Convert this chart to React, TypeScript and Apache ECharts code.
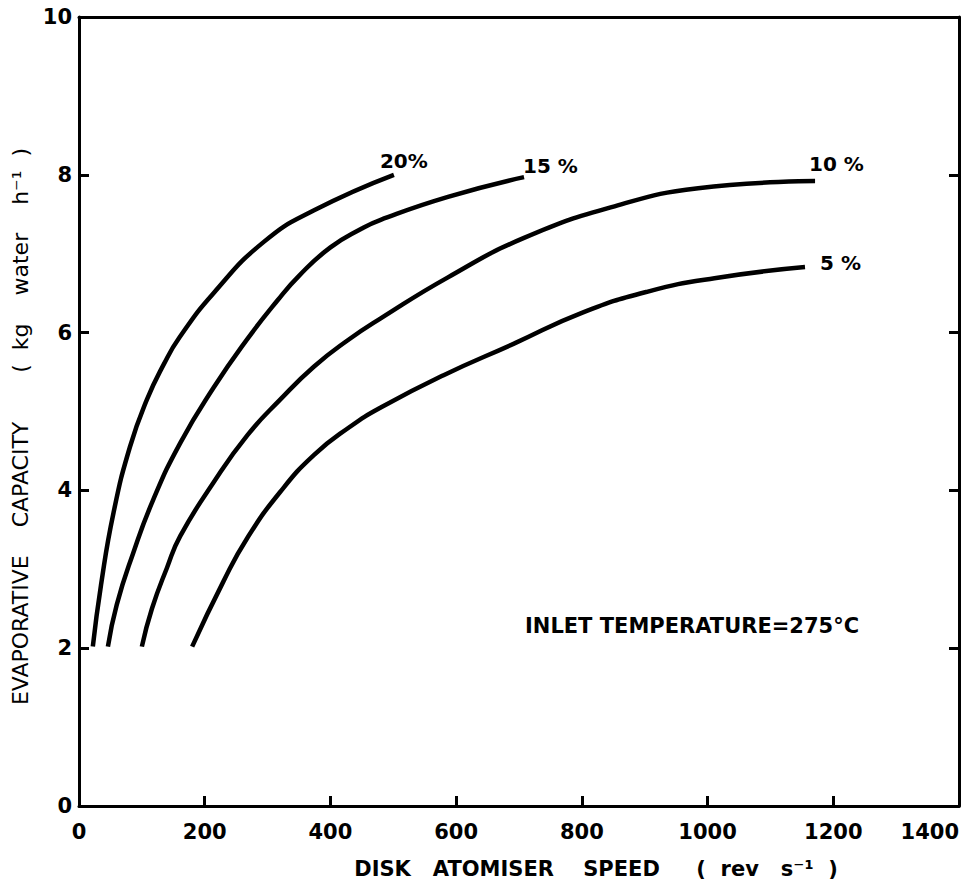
import { useEffect, useRef } from "react";
import * as echarts from "echarts";

// Disk atomiser speed (rev s^-1) and evaporative capacity (kg water h^-1) per curve
const speed20 = [22, 35, 55, 81, 108, 135, 160, 214, 294, 374, 501];
const cap20 = [2.02, 2.8, 3.72, 4.55, 5.15, 5.6, 5.94, 6.5, 7.15, 7.55, 8.0];

const speed15 = [46, 60, 86, 118, 161, 214, 268, 315, 350, 400, 450, 480, 587, 708];
const cap15 = [2.02, 2.55, 3.2, 3.88, 4.6, 5.3, 5.92, 6.4, 6.72, 7.08, 7.32, 7.43, 7.72, 7.97];

const speed10 = [100, 116, 140, 161, 214, 268, 320, 374, 427, 480, 587, 708, 852, 985, 1171];
const cap10 = [2.02, 2.5, 3.02, 3.42, 4.1, 4.7, 5.15, 5.57, 5.9, 6.18, 6.7, 7.2, 7.6, 7.83, 7.92];

const speed5 = [180, 230, 268, 320, 374, 430, 480, 580, 692, 800, 905, 1011, 1155];
const cap5 = [2.02, 2.85, 3.4, 3.98, 4.45, 4.8, 5.05, 5.46, 5.86, 6.25, 6.52, 6.69, 6.83];

const curveLabels = ["20%", "15 %", "10 %", "5 %"];

const sp = (n: number) => "\u00a0".repeat(n);
const xName = "DISK" + sp(3) + "ATOMISER" + sp(4) + "SPEED" + sp(5) + "(" + sp(2) + "rev" + sp(3) + "s\u207b\u00b9" + sp(2) + ")";
const yName = "EVAPORATIVE" + sp(4) + "CAPACITY" + sp(7) + "(" + sp(2) + "kg" + sp(4) + "water" + sp(4) + "h\u207b\u00b9" + sp(2) + ")";
const note = "INLET TEMPERATURE=275\u00b0C";

const FONT = "DejaVu Sans";

const pairs = (xs: number[], ys: number[]) => xs.map((x, i) => [x, ys[i]]);

export default function App() {
  const ref = useRef<HTMLDivElement>(null);
  useEffect(() => {
    const chart = echarts.init(ref.current!, null, { renderer: "svg" });
    const axisLine = { show: true, onZero: false, lineStyle: { color: "#000", width: 3 } };
    const tick = { show: true, inside: true, length: 10, lineStyle: { color: "#000", width: 3 } };
    const mkSeries = (xs: number[], ys: number[], label: string, offset: number[]) => ({
      type: "line",
      data: pairs(xs, ys),
      showSymbol: false,
      smooth: 0.5,
      lineStyle: { color: "#000", width: 4.5 },
      endLabel: {
        show: true,
        formatter: label,
        offset,
        color: "#000",
        fontSize: 20,
        fontFamily: FONT,
        fontWeight: "bold",
      },
    });
    chart.setOption({
      animation: false,
      backgroundColor: "#fff",
      grid: { left: 79, right: 17, top: 17, bottom: 80 },
      xAxis: [
        {
          type: "value",
          min: 0,
          max: 1400,
          interval: 200,
          position: "bottom",
          axisLine,
          axisTick: tick,
          axisLabel: {
            color: "#000",
            fontSize: 21,
            fontFamily: FONT,
            fontWeight: "bold",
            margin: 15,
            showMinLabel: true,
            showMaxLabel: true,
            alignMaxLabel: "right",
            formatter: (v: number) => String(v),
          },
          splitLine: { show: false },
          name: xName,
          nameLocation: "middle",
          nameGap: 52,
          nameTextStyle: {
            color: "#000",
            fontSize: 21,
            fontFamily: FONT,
            fontWeight: "bold",
            padding: [0, 0, 0, 154],
          },
        },
        {
          type: "value",
          min: 0,
          max: 1400,
          interval: 200,
          position: "top",
          axisLine,
          axisTick: { show: false },
          axisLabel: { show: false },
          splitLine: { show: false },
        },
      ],
      yAxis: [
        {
          type: "value",
          min: 0,
          max: 10,
          interval: 2,
          position: "left",
          axisLine,
          axisTick: tick,
          axisLabel: { color: "#000", fontSize: 21, fontFamily: FONT, fontWeight: "bold", margin: 7 },
          splitLine: { show: false },
          name: yName,
          nameLocation: "middle",
          nameGap: 43,
          nameTextStyle: {
            color: "#000",
            fontSize: 22,
            fontFamily: FONT,
            padding: [0, 30, 0, 0],
          },
        },
        {
          type: "value",
          min: 0,
          max: 10,
          interval: 2,
          position: "right",
          axisLine,
          axisTick: tick,
          axisLabel: { show: false },
          splitLine: { show: false },
        },
      ],
      graphic: [
        {
          type: "text",
          left: 525,
          top: 615,
          style: { text: note, fill: "#000", fontSize: 21, fontFamily: FONT, fontWeight: "bold" },
        },
      ],
      series: [
        mkSeries(speed20, cap20, curveLabels[0], [-22, -14]),
        mkSeries(speed15, cap15, curveLabels[1], [-9, -11]),
        mkSeries(speed10, cap10, curveLabels[2], [-14, -17]),
        mkSeries(speed5, cap5, curveLabels[3], [7, -4]),
      ],
    });
    return () => chart.dispose();
  }, []);
  return (
    <div
      ref={ref}
      style={{ position: "absolute", left: 0, top: 0, width: 976, height: 886, background: "#fff" }}
    />
  );
}
